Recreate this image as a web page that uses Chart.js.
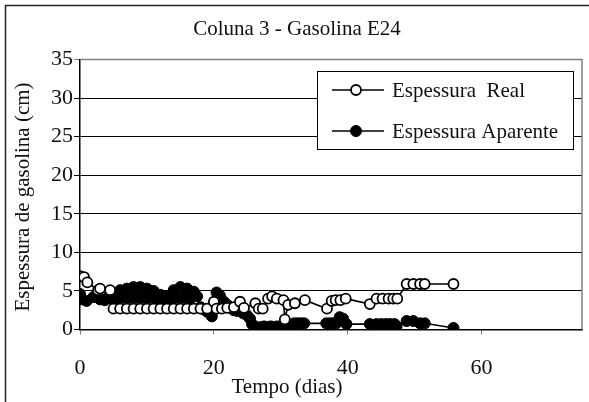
<!DOCTYPE html>
<html>
<head>
<meta charset="utf-8">
<script src="https://cdn.jsdelivr.net/npm/chart.js@4"></script>
<style>
  html, body { margin: 0; padding: 0; background: #fff; }
  #box { width: 589px; height: 402px; }
</style>
</head>
<body>
<div id="box"><canvas id="grafico" width="589" height="402"></canvas></div>
<script>
// Espessura Real (circulos abertos)
const realDias = [0, 0.6, 1.1, 2.7, 3.0, 4.5,
  5, 6, 7, 8, 9, 10, 11, 12, 13, 14, 15, 16, 17, 18, 19,
  20, 20.4, 21.2, 22, 23, 23.9, 24.5, 26.2, 26.7, 27.3, 28.1, 28.7, 29.4, 30.4, 30.6, 31.1, 32.1, 33.6,
  36.9, 37.6, 38.2, 38.9, 39.7,
  43.3, 44.3, 45.2, 46.1, 46.8, 47.4, 48.8, 49.8, 50.8, 51.5, 55.8];
const realEspessura = [6.9, 6.8, 6.1, 5.1, 5.3, 5.1,
  2.7, 2.7, 2.7, 2.7, 2.7, 2.7, 2.7, 2.7, 2.7, 2.7, 2.7, 2.7, 2.7, 2.7, 2.7,
  3.6, 2.7, 2.7, 2.8, 2.9, 3.6, 2.8, 3.4, 2.7, 2.7, 4.0, 4.3, 4.0, 3.8, 1.3, 3.2, 3.4, 3.8,
  2.7, 3.7, 3.8, 3.8, 4.0,
  3.3, 4.0, 4.0, 4.0, 4.0, 4.0, 5.9, 5.9, 5.9, 5.9, 5.9];

// Espessura Aparente (circulos cheios)
const aparenteDias = [0, 0.2, 1, 2, 3, 3.7, 4.3,
  4.6, 5, 5.5, 6, 6.5, 7, 7.5, 8, 8.5, 9, 9.5, 10, 10.5, 11, 11.5, 12, 12.5, 13, 13.5, 14, 14.5, 15, 15.5, 16, 16.5, 17,
  17.5, 18, 18.5, 19, 19.7, 20.4, 20.9, 21.5, 22, 22.5, 23, 23.5, 24.4, 25, 25.4, 25.7,
  26.4, 27, 27.5, 28, 28.5, 29, 29.5, 30, 30.5, 31, 31.5, 32, 32.5, 33, 33.5,
  36.8, 37.3, 37.8, 38.3, 38.8, 39.3, 39.8,
  43.3, 44.3, 45, 45.7, 46.3, 47, 47.3, 48.8, 49.8, 50.8, 51.5, 55.8];
const aparenteEspessura = [4.6, 3.9, 3.7, 4.2, 3.9, 3.8, 4.3,
  4.0, 4.7, 4.0, 5.1, 4.1, 5.3, 4.1, 5.5, 4.1, 5.5, 4.1, 5.3, 4.1, 5.0, 4.0, 4.5, 4.0, 4.3, 4.0, 5.1, 4.1, 5.5, 4.1, 5.3, 4.0, 4.9,
  4.3, 2.9, 2.6, 2.3, 1.7, 4.8, 4.4, 3.6, 3.2, 2.8, 2.5, 2.4, 2.1, 1.8, 1.4, 0.7,
  0.3, 0.3, 0.4, 0.3, 0.4, 0.3, 0.4, 0.3, 0.4, 0.3, 0.5, 0.8, 0.8, 0.8, 0.8,
  0.8, 0.8, 0.8, 0.8, 1.6, 1.4, 0.7,
  0.7, 0.7, 0.7, 0.7, 0.7, 0.7, 0.4, 1.1, 1.1, 0.8, 0.8, 0.2];

const titulo = 'Coluna 3 - Gasolina E24';
const tituloX = 'Tempo (dias)';
const tituloY = 'Espessura de gasolina (cm)';
const nomesSeries = ['Espessura  Real', 'Espessura Aparente'];

const fonte = '"Liberation Serif", "Times New Roman", serif';

function pontos(xs, ys) {
  return xs.map((x, i) => ({ x, y: ys[i] }));
}

// textos, bordas e legenda desenhados por cima do grafico
const extras = {
  id: 'extras',
  beforeDraw(chart) {
    const ctx = chart.ctx;
    ctx.save();
    ctx.fillStyle = '#fff';
    ctx.fillRect(0, 0, chart.width, chart.height);
    ctx.strokeStyle = '#222';
    ctx.lineWidth = 1.5;
    ctx.beginPath();
    ctx.moveTo(5.5, 402);
    ctx.lineTo(5.5, 5.5);
    ctx.lineTo(589, 5.5);
    ctx.stroke();
    ctx.restore();
  },
  afterDraw(chart) {
    const ctx = chart.ctx;
    const a = chart.chartArea;
    ctx.save();
    // borda da area do grafico (cinza, topo e direita)
    ctx.strokeStyle = '#808080';
    ctx.lineWidth = 1.5;
    ctx.beginPath();
    ctx.moveTo(a.left, a.top);
    ctx.lineTo(a.right, a.top);
    ctx.lineTo(a.right, a.bottom);
    ctx.stroke();

    ctx.fillStyle = '#111';
    ctx.font = '21px ' + fonte;
    ctx.textAlign = 'center';
    ctx.textBaseline = 'middle';
    ctx.fillText(titulo, 297, 29);
    ctx.fillText(tituloX, 287, 387);
    ctx.save();
    ctx.translate(23, 197);
    ctx.rotate(-Math.PI / 2);
    ctx.fillText(tituloY, 0, 0);
    ctx.restore();

    // legenda
    ctx.fillStyle = '#fff';
    ctx.fillRect(317, 71, 256, 78);
    ctx.strokeStyle = '#000';
    ctx.lineWidth = 1;
    ctx.strokeRect(317.5, 71.5, 256, 78);
    const linhas = [90, 131];
    chart.data.datasets.forEach((ds, i) => {
      const y = linhas[i];
      ctx.strokeStyle = '#000';
      ctx.lineWidth = 1.6;
      ctx.beginPath();
      ctx.moveTo(332, y);
      ctx.lineTo(384, y);
      ctx.stroke();
      ctx.beginPath();
      ctx.arc(356, y, ds.pointRadius, 0, Math.PI * 2);
      ctx.fillStyle = ds.pointBackgroundColor;
      ctx.fill();
      ctx.lineWidth = ds.pointBorderWidth;
      ctx.stroke();
      ctx.fillStyle = '#111';
      ctx.textAlign = 'left';
      ctx.fillText(nomesSeries[i], 392, y + 1);
    });
    ctx.restore();
  }
};

new Chart(document.getElementById('grafico'), {
  type: 'scatter',
  data: {
    datasets: [
      {
        label: nomesSeries[0],
        data: pontos(realDias, realEspessura),
        showLine: true,
        borderColor: '#000',
        borderWidth: 1.6,
        pointRadius: 5,
        pointBorderWidth: 1.8,
        pointBackgroundColor: '#fff',
        pointBorderColor: '#000'
      },
      {
        label: nomesSeries[1],
        data: pontos(aparenteDias, aparenteEspessura),
        showLine: true,
        borderColor: '#000',
        borderWidth: 1.6,
        pointRadius: 5.5,
        pointBorderWidth: 1,
        pointBackgroundColor: '#000',
        pointBorderColor: '#000'
      }
    ]
  },
  options: {
    responsive: false,
    animation: false,
    layout: { padding: { top: 59.5, right: 7, bottom: 0, left: 0 } },
    plugins: {
      legend: { display: false },
      title: { display: false },
      tooltip: { enabled: false }
    },
    scales: {
      x: {
        type: 'linear',
        min: 0,
        max: 75,
        afterFit: s => { s.height = 72.5; },
        ticks: {
          stepSize: 20,
          includeBounds: false,
          padding: 21,
          color: '#111',
          font: { family: fonte, size: 22 }
        },
        grid: { drawOnChartArea: false, drawTicks: true, tickLength: 5, color: '#808080' },
        border: { color: '#000', width: 1.5 }
      },
      y: {
        min: 0,
        max: 35,
        afterFit: s => { s.width = 80; },
        ticks: {
          stepSize: 5,
          padding: 1,
          color: '#111',
          font: { family: fonte, size: 22 }
        },
        grid: {
          color: c => (c.tick && c.tick.value === 35 ? '#808080' : '#000'),
          lineWidth: 1,
          tickLength: 6
        },
        border: { color: '#000', width: 1.5 }
      }
    }
  },
  plugins: [extras]
});
</script>
</body>
</html>
